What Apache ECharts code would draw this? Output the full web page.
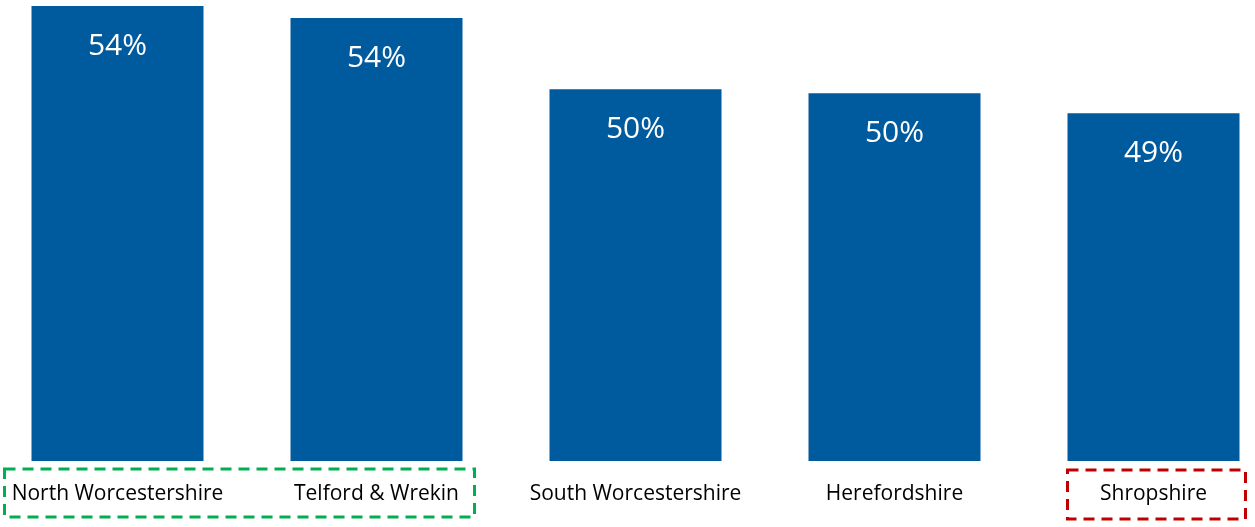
<!DOCTYPE html>
<html>
<head>
<meta charset="utf-8">
<script src="https://cdn.jsdelivr.net/npm/echarts@6/dist/echarts.min.js"></script>
<style>html,body{margin:0;padding:0;background:#fff;overflow:hidden;width:1255px;height:527px;position:relative;}
#c{position:absolute;left:-12px;top:0;width:1295px;height:527px;}</style>
</head>
<body>
<div id="c"></div>
<script>
const categories = ['North Worcestershire', 'Telford & Wrekin', 'South Worcestershire', 'Herefordshire', 'Shropshire'];
const values = [54.4, 53.75, 49.94, 49.72, 48.65];
const greenGroup = [0, 1];
const redGroup = [4];

const chart = echarts.init(document.getElementById('c'), null, {renderer: 'canvas'});
const FONT = 'Open Sans';
chart.setOption({
  animation: false,
  grid: {left: 0, right: 0, top: 6, bottom: 66, containLabel: false},
  xAxis: {
    type: 'category', data: categories,
    axisLine: {show: false}, axisTick: {show: false},
    axisLabel: {color: '#000', fontSize: 21, fontFamily: FONT, margin: 23, interval: 0}
  },
  yAxis: {type: 'value', min: 30, max: 54.4, show: false, splitLine: {show: false}},
  series: [{
    type: 'bar', data: values, barWidth: 172,
    itemStyle: {color: '#005A9E'},
    label: {show: true, position: 'insideTop', distance: 25, color: '#fff', fontSize: 30, fontFamily: FONT,
      formatter: p => Math.round(p.value) + '%'}
  }]
});

function box(group, offL, offR, top, bottom, color) {
  const l = chart.convertToPixel({xAxisIndex: 0}, group[0]) + offL;
  const r = chart.convertToPixel({xAxisIndex: 0}, group[group.length - 1]) + offR;
  return {type: 'rect', shape: {x: l, y: top, width: r - l, height: bottom - top},
    style: {fill: 'none', stroke: color, lineWidth: 3, lineDash: [11, 7]}};
}
chart.setOption({graphic: [
  box(greenGroup, -113, 98, 469, 517, '#00B050'),
  box(redGroup, -86, 92, 470, 519, '#C00000')
]});
</script>
</body>
</html>
